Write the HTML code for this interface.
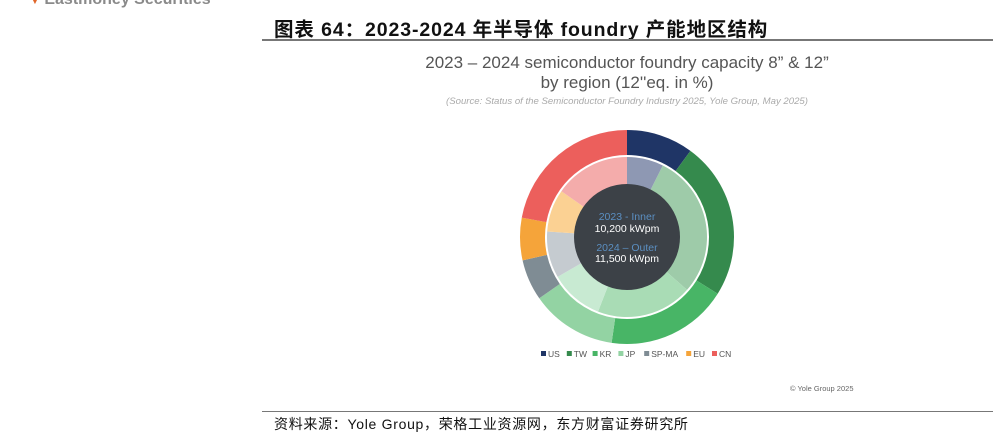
<!DOCTYPE html>
<html><head><meta charset="utf-8"><style>
body{margin:0;width:993px;height:437px;background:#fff;position:relative;overflow:hidden;font-family:"Liberation Sans","Noto Sans CJK SC",sans-serif}
.a{position:absolute;white-space:nowrap}
</style></head><body>
<div class="a" style="left:30px;top:-9px;font-size:16px;font-weight:bold;color:#8a8a8a"><span style="color:#e0662a;font-size:10px">▼</span> Eastmoney Securities</div>
<div class="a" style="left:274px;top:13px;font-size:19.5px;letter-spacing:0.9px;font-weight:bold;color:#111">图表 64：2023-2024 年半导体 foundry 产能地区结构</div>
<div class="a" style="left:262px;top:39px;width:731px;height:2px;background:#777"></div>
<div class="a" style="left:377px;top:53px;width:500px;text-align:center;font-size:17px;line-height:20px;color:#555">2023 – 2024 semiconductor foundry capacity 8” &amp; 12”<br>by region (12''eq. in %)</div>
<div class="a" style="left:377px;top:96px;width:500px;text-align:center;font-size:9.6px;font-style:italic;color:#aaa">(Source: Status of the Semiconductor Foundry Industry 2025, Yole Group, May 2025)</div>
<svg class="a" style="left:0;top:0" width="993" height="437">
<g id="rings"></g>
<circle cx="627" cy="237" r="53" fill="#3c4147"/>
<text x="627" y="220" text-anchor="middle" font-size="10.5" fill="#5b8fc2" font-family="Liberation Sans">2023 - Inner</text>
<text x="627" y="232" text-anchor="middle" font-size="10.5" fill="#fff" font-family="Liberation Sans">10,200 kWpm</text>
<text x="627" y="251" text-anchor="middle" font-size="10.5" fill="#5b8fc2" font-family="Liberation Sans">2024 – Outer</text>
<text x="627" y="262" text-anchor="middle" font-size="10.5" fill="#fff" font-family="Liberation Sans">11,500 kWpm</text>
<g id="legend"></g>
</svg>
<div class="a" style="left:790px;top:384px;font-size:7.5px;color:#666">© Yole Group 2025</div>
<div class="a" style="left:262px;top:411px;width:731px;height:1px;background:#777"></div>
<div class="a" style="left:274px;top:414px;font-size:14px;letter-spacing:0.7px;color:#111">资料来源：Yole Group，荣格工业资源网，东方财富证券研究所</div>
<script>
const regions=["US","TW","KR","JP","SP-MA","EU","CN"];
const outer2024=[10.1,23.8,18.4,13.0,6.2,6.4,22.1];
const inner2023=[7.4,29.1,19.4,10.8,9.4,8.6,15.3];
const outerColors=["#1f3566","#358a4d","#48b566","#93d3a3","#7f8c94","#f5a43a","#ec5f5c"];
const innerColors=["#8e98b3","#9ecba9","#a9dcb5","#c8ead2","#c5cbd0","#fbd193","#f4acab"];
const NS="http://www.w3.org/2000/svg",cx=627,cy=237;
function pt(r,a){a=a*Math.PI/180;return [cx+r*Math.sin(a),cy-r*Math.cos(a)];}
function ring(vals,cols,r0,r1,name){
 const tot=vals.reduce((s,v)=>s+v,0);let a=0;const g=document.getElementById('rings');
 vals.forEach((v,i)=>{const b=a+v/tot*360,l=(b-a)>180?1:0;
  const p1=pt(r1,a),p2=pt(r1,b),p3=pt(r0,b),p4=pt(r0,a);
  const p=document.createElementNS(NS,'path');
  p.setAttribute('d',`M${p1}A${r1},${r1} 0 ${l} 1 ${p2}L${p3}A${r0},${r0} 0 ${l} 0 ${p4}Z`);
  p.setAttribute('fill',cols[i]);
  
  
  g.appendChild(p);a=b;});
}
ring(outer2024,outerColors,82,107,'outer-slice');
ring(inner2023,innerColors,52,80,'inner-slice');
const lg=document.getElementById('legend');let x=541;
regions.forEach((r,i)=>{
 const s=document.createElementNS(NS,'rect');
 s.setAttribute('x',x);s.setAttribute('y',351);s.setAttribute('width',5);s.setAttribute('height',5);s.setAttribute('fill',outerColors[i]);
 
 
 lg.appendChild(s);
 const t=document.createElementNS(NS,'text');
 t.setAttribute('x',x+7);t.setAttribute('y',357);t.setAttribute('font-size','8.5');t.setAttribute('fill','#555');t.setAttribute('font-family','Liberation Sans');
 t.textContent=r;
 
 
 lg.appendChild(t);
 x+=7+r.length*5.4+8;
});
</script>
</body></html>
